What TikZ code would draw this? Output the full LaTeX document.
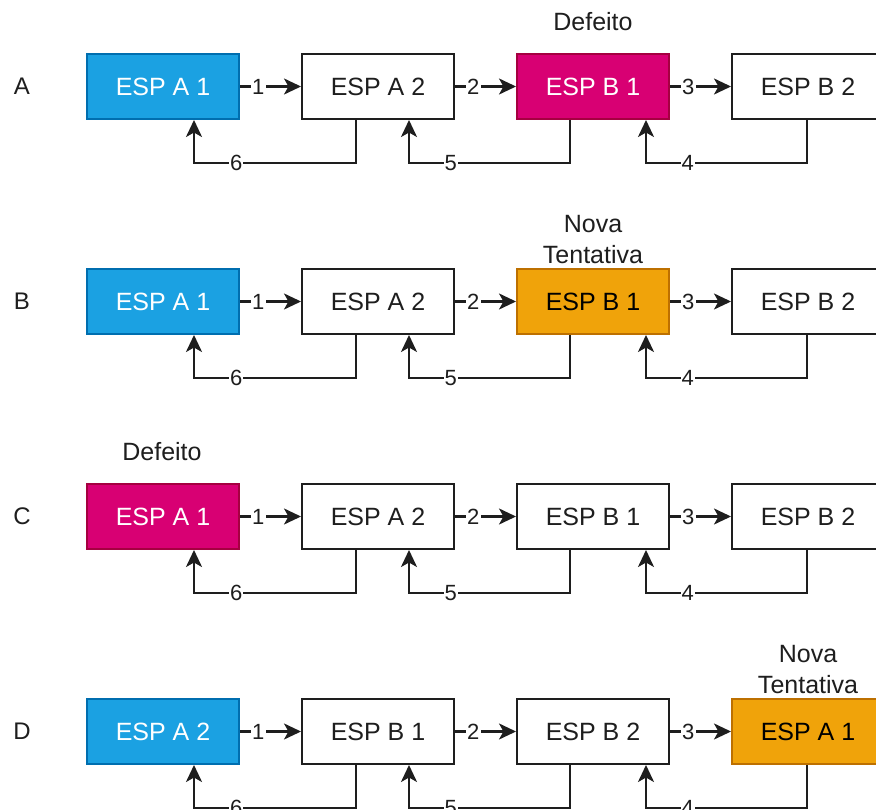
\documentclass[tikz,border=0pt]{standalone}
\usepackage{fontspec}
\setmainfont{Liberation Sans}
\usetikzlibrary{arrows.meta,calc}

\definecolor{inkc}{HTML}{1E1E1E}
\definecolor{okfill}{HTML}{1BA1E2}
\definecolor{okline}{HTML}{006EAF}
\definecolor{faultfill}{HTML}{D80073}
\definecolor{faultline}{HTML}{A50040}
\definecolor{retryfill}{HTML}{F0A30A}
\definecolor{retryline}{HTML}{BD7000}

\tikzset{
  espbox/.style={draw=inkc, line width=2pt, fill=white, text=inkc,
    minimum width=152pt, minimum height=65pt, inner sep=0pt,
    font=\fontsize{25}{29}\selectfont},
  okbox/.style={espbox, fill=okfill, draw=okline, text=white},
  faultbox/.style={espbox, fill=faultfill, draw=faultline, text=white},
  retrybox/.style={espbox, fill=retryfill, draw=retryline, text=black},
  rowtag/.style={text=inkc, font=\fontsize{24}{28}\selectfont},
  note/.style={text=inkc, align=center, font=\fontsize{25}{31}\selectfont},
  flow/.style={draw=inkc, line width=2.2pt,
    -{Stealth[length=17pt, width=16pt, inset=4.5pt]}},
  num/.style={fill=white, text=inkc, inner sep=1.2pt,
    font=\fontsize{22}{24}\selectfont},
}

% forward link with its number
\newcommand\fwd[3]{\draw[flow] (#1.east) -- node[num, pos=0.3]{#3} (#2.west);}
% return link: drops from #1 at offset #2, runs left, climbs into #3 at offset #4
\newcommand\back[5]{\draw[flow] ($(#1.south west)+(#2,0)$) -- ++(0,43)
  -- node[num, pos=0.74]{#5} ($(#3.south west)+(#4,43)$)
  -- ($(#3.south west)+(#4,0)$);}

\begin{document}
\begin{tikzpicture}[x=1pt, y=-1pt]
  \fill[white] (0,0) rectangle (876,810);
  \clip (0,0) rectangle (876,810);

  % row A
  \node[rowtag] (tagA) at (22,86.5) {A};
  \node[okbox]    (a1) at (163,86.5) {ESP A 1};
  \node[espbox]   (a2) at (378,86.5) {ESP A 2};
  \node[faultbox] (a3) at (593,86.5) {ESP B 1};
  \node[espbox]   (a4) at (808,86.5) {ESP B 2};
  \node[note] (noteA) at (593,22) {Defeito};

  % row B
  \node[rowtag] (tagB) at (22,301.5) {B};
  \node[okbox]    (b1) at (163,301.5) {ESP A 1};
  \node[espbox]   (b2) at (378,301.5) {ESP A 2};
  \node[retrybox] (b3) at (593,301.5) {ESP B 1};
  \node[espbox]   (b4) at (808,301.5) {ESP B 2};
  \node[note, anchor=south] (noteB) at (593,267) {Nova\\Tentativa};

  % row C
  \node[rowtag] (tagC) at (22,516.5) {C};
  \node[faultbox] (c1) at (163,516.5) {ESP A 1};
  \node[espbox]   (c2) at (378,516.5) {ESP A 2};
  \node[espbox]   (c3) at (593,516.5) {ESP B 1};
  \node[espbox]   (c4) at (808,516.5) {ESP B 2};
  \node[note] (noteC) at (162,452) {Defeito};

  % row D
  \node[rowtag] (tagD) at (22,731.5) {D};
  \node[okbox]    (d1) at (163,731.5) {ESP A 2};
  \node[espbox]   (d2) at (378,731.5) {ESP B 1};
  \node[espbox]   (d3) at (593,731.5) {ESP B 2};
  \node[retrybox] (d4) at (808,731.5) {ESP A 1};
  \node[note, anchor=south] (noteD) at (808,697) {Nova\\Tentativa};

  \foreach \r in {a,b,c,d}{
    \fwd{\r1}{\r2}{1}
    \fwd{\r2}{\r3}{2}
    \fwd{\r3}{\r4}{3}
    \back{\r2}{55}{\r1}{108}{6}
    \back{\r3}{54}{\r2}{108}{5}
    \back{\r4}{76}{\r3}{130}{4}
  }
\end{tikzpicture}
\end{document}
